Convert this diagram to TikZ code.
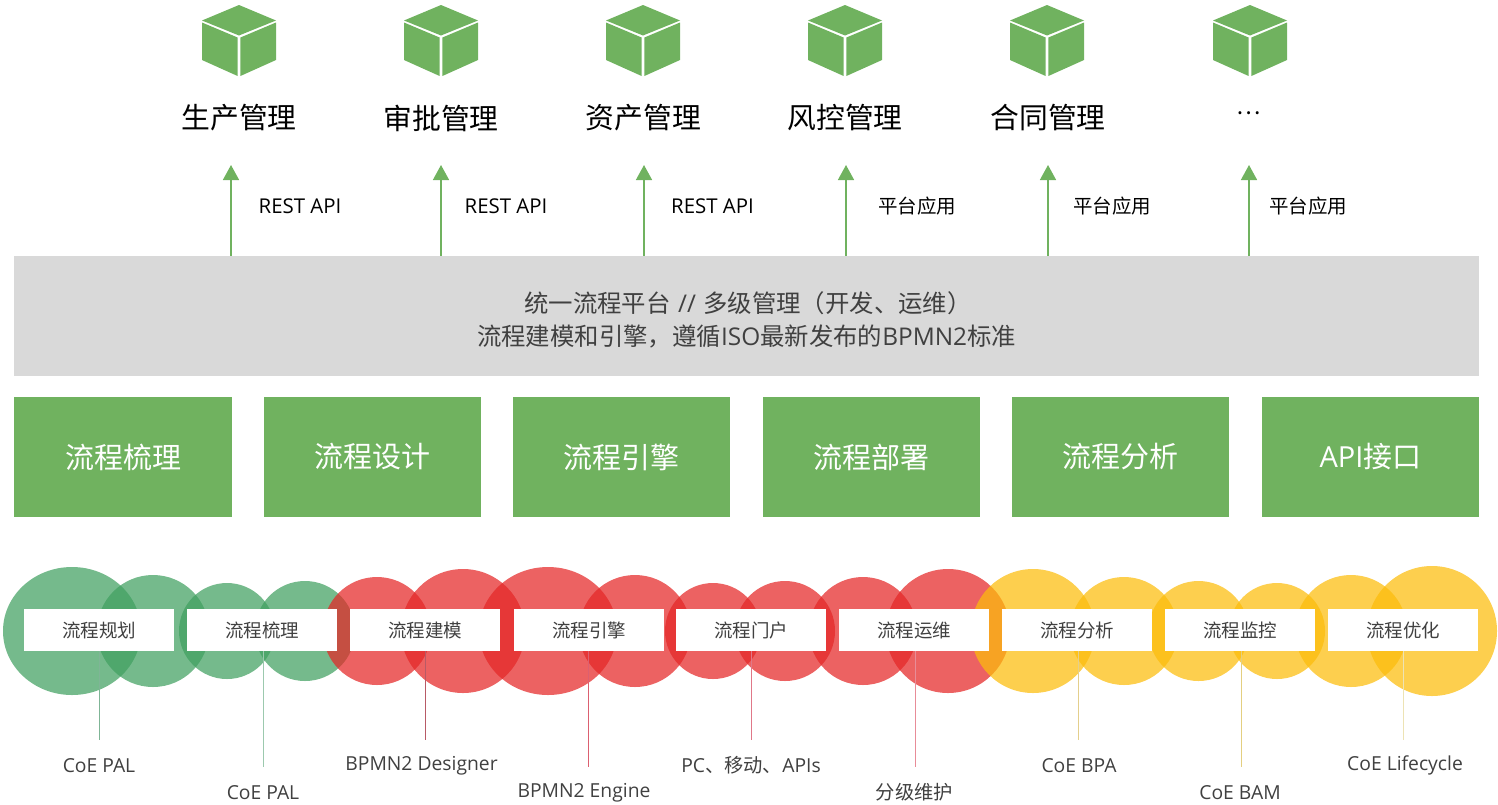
\documentclass[tikz,border=0pt]{standalone}
\usepackage{fontspec}
\setmainfont{Open Sans}
\newfontfamily\cjk{Noto Sans CJK SC}
\usetikzlibrary{arrows.meta,shapes.geometric}
\definecolor{gr}{HTML}{70B25F}
\definecolor{cg}{HTML}{40A060}
\definecolor{cr}{HTML}{E42626}
\definecolor{cy}{HTML}{FCBC0A}
\definecolor{tx}{HTML}{404040}
\tikzset{
  blob/.style={circle,inner sep=0pt,minimum size=#1,fill opacity=.72,draw=none},
  widecg/.style={ellipse,inner sep=0pt,minimum width=138pt,minimum height=128pt,fill opacity=.72,draw=none,fill=#1},
  greenblob/.style={blob=2*#1,fill=cg},
  redblob/.style={blob=2*#1,fill=cr},
  yellowblob/.style={blob=2*#1,fill=cy},
  whitebox/.style={rectangle,fill=white,inner sep=0pt,minimum width=150pt,minimum height=42pt,text=tx,font=\cjk\fontsize{18.5}{20}\selectfont},
  greenbox/.style={rectangle,fill=gr,inner sep=0pt,minimum width=217.5pt,minimum height=120pt,text=white,font=\fontsize{29}{32}\selectfont},
  title/.style={inner sep=0pt,text=black,font=\cjk\fontsize{28.8}{32}\selectfont},
  apilabel/.style={inner sep=0pt,text=black,font=\fontsize{20.4}{22}\selectfont},
  applabel/.style={inner sep=0pt,text=black,font=\cjk\fontsize{19.5}{22}\selectfont},
  footlabel/.style={inner sep=0pt,text=tx,font=\fontsize{19.3}{22}\selectfont},
  bandline/.style={inner sep=0pt,text=tx,font=\fontsize{24.4}{28}\selectfont},
  up/.style={draw=gr,line width=1.5pt,-{Triangle[width=16pt,length=15pt]}},
  stem/.style={line width=1pt}
}
\newcommand{\cube}[1]{%
  \begin{scope}[shift={(#1,5)}]
    \fill[gr] (0,0) -- (37,15.5) -- (0,30.5) -- (-37,15.5) -- cycle;
    \fill[gr] (-37,17.5) -- (-1.4,32.5) -- (-1.4,71) -- (-37,55) -- cycle;
    \fill[gr] (1.4,32.5) -- (37,17.5) -- (37,55) -- (1.4,71) -- cycle;
  \end{scope}}
\begin{document}
\begin{tikzpicture}[x=1pt,y=-1pt]
\useasboundingbox (0,0) rectangle (1498,804);
% cubes
\foreach \c in {239,441,643,845,1047,1250} {\cube{\c}}
% titles
\node[title] (t1) at (239,118) {生产管理};
\node[title] (t2) at (441,118) {审批管理};
\node[title] (t3) at (643.5,118) {资产管理};
\node[title] (t4) at (845,118) {风控管理};
\node[title] (t5) at (1048,118) {合同管理};
\node[title,font=\cjk\fontsize{23}{26}\selectfont] (t6) at (1249,113) {…};
% band
\node[rectangle,fill=black!15,inner sep=0pt,minimum width=1465pt,minimum height=120pt] (band) at (746.5,316) {};
\node[bandline] (b1) at (748,303) {{\cjk 统一流程平台}\kern1pt\ //\kern1pt\ {\cjk 多级管理（开发、运维）}};
\node[bandline] (b2) at (746.5,336) {{\cjk 流程建模和引擎，遵循}ISO{\cjk 最新发布的}BPMN2{\cjk 标准}};
% arrows
\foreach \n/\x in {1/231,2/441,3/644,4/846,5/1048,6/1249} {
  \coordinate (a\n) at (\x,165);
  \draw[up] (band.north -| a\n) -- (a\n);
}
\node[apilabel] (l1) at (300,206) {REST API};
\node[apilabel] (l2) at (506,206) {REST API};
\node[apilabel] (l3) at (712.5,206) {REST API};
\node[applabel] (l4) at (917,206.5) {平台应用};
\node[applabel] (l5) at (1112,206.5) {平台应用};
\node[applabel] (l6) at (1308,206.5) {平台应用};
% green row
\node[greenbox] (g1) at (123,457) {\cjk 流程梳理};
\node[greenbox] (g2) at (372.5,457) {\cjk 流程设计};
\node[greenbox] (g3) at (621.5,457) {\cjk 流程引擎};
\node[greenbox] (g4) at (871.5,457) {\cjk 流程部署};
\node[greenbox] (g5) at (1120.5,457) {\cjk 流程分析};
\node[greenbox] (g6) at (1370.5,457) {API{\cjk 接口}};
% blobs
\node[widecg=cg] (c1) at (72,631) {};
\node[greenblob=56pt] (c2) at (153,631) {};
\node[greenblob=48pt] (c3) at (227,631) {};
\node[greenblob=50pt] (c4) at (305,631) {};
\node[redblob=54pt] (c5) at (377,631) {};
\node[redblob=62pt] (c6) at (463,631) {};
\node[widecg=cr] (c7) at (548,631) {};
\node[redblob=56pt] (c8) at (635,631) {};
\node[redblob=48pt] (c9) at (713,631) {};
\node[redblob=50pt] (c10) at (785,631) {};
\node[redblob=54pt] (c11) at (863,631) {};
\node[redblob=62pt] (c12) at (948,631) {};
\node[yellowblob=62pt] (c13) at (1033,631) {};
\node[yellowblob=54pt] (c14) at (1124,631) {};
\node[yellowblob=50pt] (c15) at (1198.5,631) {};
\node[yellowblob=48pt] (c16) at (1277,631) {};
\node[yellowblob=56pt] (c17) at (1351,631) {};
\node[yellowblob=65pt] (c18) at (1432,631) {};
% white boxes
\node[whitebox] (w1) at (99,630) {流程规划};
\node[whitebox] (w2) at (262,630) {流程梳理};
\node[whitebox] (w3) at (425,630) {流程建模};
\node[whitebox] (w4) at (589,630) {流程引擎};
\node[whitebox] (w5) at (751,630) {流程门户};
\node[whitebox] (w6) at (914,630) {流程运维};
\node[whitebox] (w7) at (1077,630) {流程分析};
\node[whitebox] (w8) at (1240,630) {流程监控};
\node[whitebox] (w9) at (1403,630) {流程优化};
% stems
\foreach \n/\x/\y/\col in {1/99/740/7FB596,2/263/767/9CC9AE,3/425/740/B85A66,4/588/767/DC6070,5/751/740/E07888,6/915/767/E88C98,7/1078/740/E4CF8C,8/1241/767/E4CF80,9/1403/740/EDE3B4} {
  \definecolor{sc}{HTML}{\col}
  \coordinate (e\n) at (\x,\y);
  \draw[stem,draw=sc] (w\n.south -| e\n) -- (e\n);
}
% foot labels
\node[footlabel] (f1) at (99,765.5) {CoE PAL};
\node[footlabel] (f2) at (263,792.5) {CoE PAL};
\node[footlabel] (f3) at (421.5,765.5) {BPMN2 Designer};
\node[footlabel] (f4) at (584,792.5) {BPMN2 Engine};
\node[footlabel] (f5) at (751,765.5) {PC{\cjk 、移动、}APIs};
\node[footlabel] (f6) at (914.5,792.5) {\cjk 分级维护};
\node[footlabel] (f7) at (1079,765.5) {CoE BPA};
\node[footlabel] (f8) at (1240,792.5) {CoE BAM};
\node[footlabel] (f9) at (1405,765.5) {CoE Lifecycle};
\end{tikzpicture}
\end{document}
